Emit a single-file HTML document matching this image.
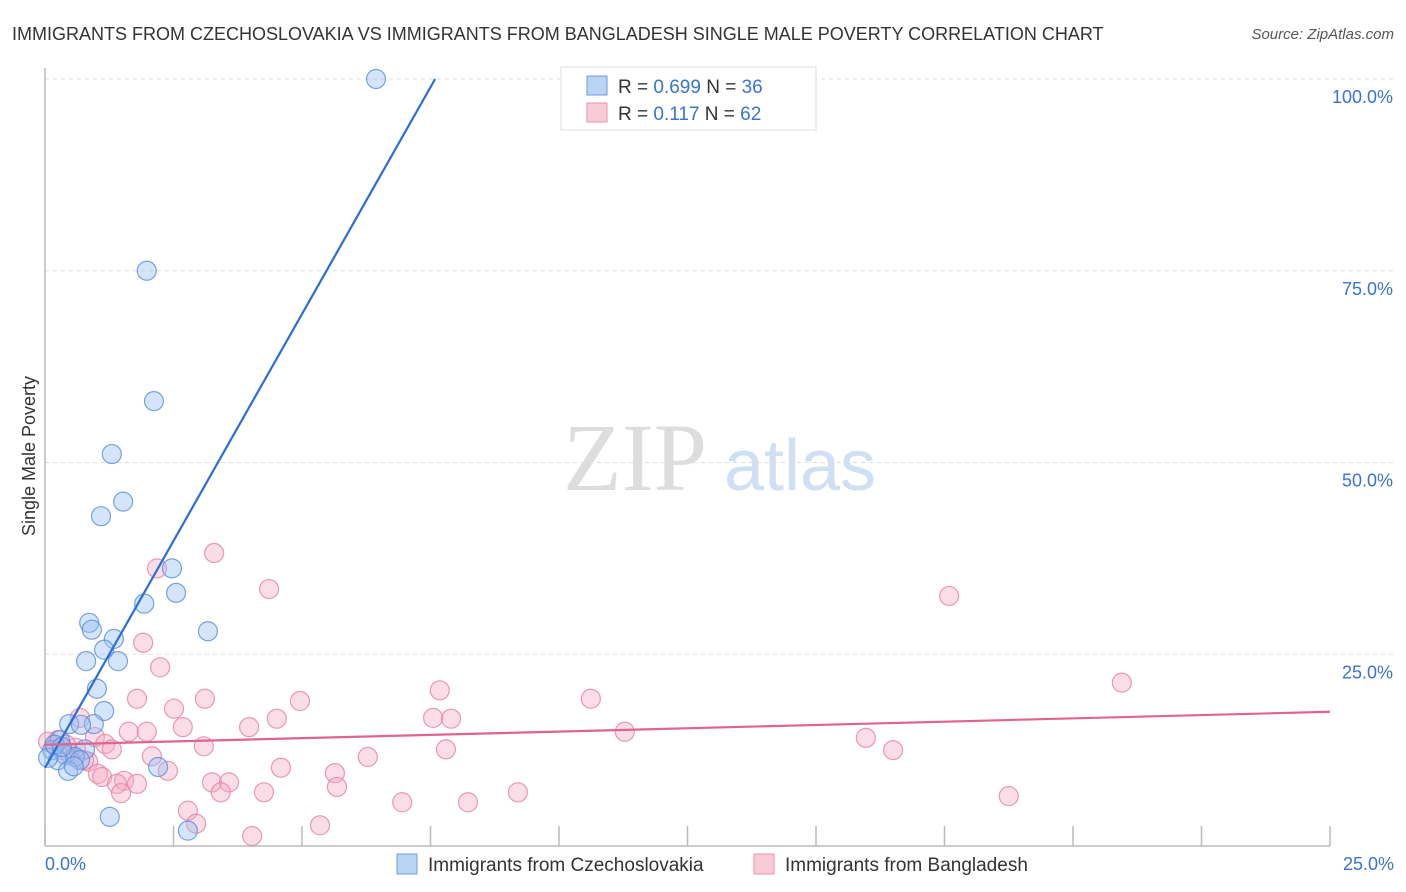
<!DOCTYPE html>
<html><head><meta charset="utf-8"><style>
body{margin:0;background:#fff;font-family:"Liberation Sans",sans-serif}
svg{display:block}
</style></head><body>
<svg id="chart" width="1406" height="892" font-family="Liberation Sans, sans-serif">
<text x="12" y="40" font-size="18" fill="#333">IMMIGRANTS FROM CZECHOSLOVAKIA VS IMMIGRANTS FROM BANGLADESH SINGLE MALE POVERTY CORRELATION CHART</text>
<text x="1394" y="39" font-size="15" fill="#555" font-style="italic" text-anchor="end">Source: ZipAtlas.com</text>
<text x="35" y="456" font-size="18" fill="#333" text-anchor="middle" transform="rotate(-90 35 456)">Single Male Poverty</text>
<g>
<text x="635" y="490" font-size="96" fill="#ddd" font-family="Liberation Serif, serif" text-anchor="middle">ZIP</text>
<text x="800" y="490" font-size="72" fill="#cfe0f5" text-anchor="middle">atlas</text>
</g>
<g id="grid"></g>
<g id="axes"></g>
<g id="points"></g>
<g id="trends"></g>
<g>
<rect x="561" y="67" width="255" height="63" fill="#fff" stroke="#ddd"/>
<rect x="587" y="76" width="20" height="19" fill="#b9d3f5" stroke="#6b9de0"/>
<rect x="587" y="103" width="20" height="19" fill="#f9cad8" stroke="#e990ab"/>
<text x="618" y="93" font-size="19" fill="#333">R = <tspan fill="#3a73d0">0.699</tspan>   N = <tspan fill="#3a73d0">36</tspan></text>
<text x="618" y="120" font-size="19" fill="#333">R =  <tspan fill="#3a73d0"> 0.117</tspan>   N = <tspan fill="#3a73d0">62</tspan></text>
</g>
<g>
<rect x="397" y="854" width="20" height="20" fill="#b9d3f5" stroke="#6b9de0"/>
<text x="428" y="871" font-size="19" fill="#333">Immigrants from Czechoslovakia</text>
<rect x="754" y="854" width="20" height="20" fill="#f9cad8" stroke="#e990ab"/>
<text x="785" y="871" font-size="19" fill="#333">Immigrants from Bangladesh</text>
</g>
</svg>
<script>
const blueX=[6.44,1.98,2.12,1.30,1.52,1.09,2.47,2.55,1.93,3.17,0.86,0.91,1.34,1.15,1.42,0.80,1.01,1.15,0.47,0.95,0.70,0.78,0.29,0.14,0.39,0.58,0.25,0.68,0.45,0.56,2.20,1.26,2.78,0.06,0.19,0.33];
const blueY=[100,75.0,58.0,51.1,44.9,43.0,36.2,33.0,31.6,28.0,29.1,28.2,27.0,25.6,24.1,24.1,20.5,17.6,15.9,15.9,15.8,12.6,13.8,12.5,11.9,11.6,11.2,11.2,9.8,10.4,10.3,3.8,2.0,11.5,13.2,12.9];
const pinkX=[2.18,3.29,4.36,17.59,1.91,2.24,20.95,1.79,3.11,4.96,7.68,10.62,2.51,4.51,7.55,7.90,0.68,2.68,3.97,11.28,1.63,1.98,0.97,1.17,15.97,3.09,1.30,7.80,16.50,2.08,6.28,0.84,4.59,2.39,5.64,1.03,1.11,1.54,3.25,3.58,1.40,1.79,5.68,3.42,4.26,1.48,9.20,18.75,6.95,8.23,2.78,2.94,5.35,4.03,0.18,0.33,0.49,0.25,0.06,0.60,0.41,0.76];
const pinkY=[36.2,38.2,33.5,32.6,26.5,23.3,21.3,19.2,19.2,18.9,20.3,19.2,17.9,16.6,16.7,16.6,16.7,15.5,15.5,14.9,14.9,14.9,14.2,13.3,14.1,13.0,12.6,12.6,12.5,11.7,11.6,11.0,10.2,9.8,9.5,9.4,9.0,8.5,8.3,8.3,8.1,8.1,7.7,7.0,7.0,6.9,7.0,6.5,5.7,5.7,4.6,2.9,2.7,1.3,13.2,12.5,12.0,13.8,13.6,12.8,13.2,11.2];
const blueTrend=[[0,10.2],[7.59,100]];
const pinkTrend=[[0,13.2],[25,17.5]];
const yTicks=[25,50,75,100];
const yTickLabels=["25.0%","50.0%","75.0%","100.0%"];
const xTickLabels=["0.0%","25.0%"];
const NS="http://www.w3.org/2000/svg";
const X0=45,X1=1330,Y0=846,Y100=79;
const sx=v=>X0+v/25*(X1-X0);
const sy=v=>Y0-v/100*(Y0-Y100);
function mk(tag,attrs,parent){const e=document.createElementNS(NS,tag);for(const k in attrs)e.setAttribute(k,attrs[k]);parent.appendChild(e);return e;}
const grid=document.getElementById('grid'),axes=document.getElementById('axes'),pts=document.getElementById('points'),tr=document.getElementById('trends');
yTicks.forEach((t,i)=>{
 const l=mk('line',{x1:X0,x2:1394,y1:sy(t),y2:sy(t),stroke:'#ddd','stroke-dasharray':'4,4'},grid);
 
 
 const tx=mk('text',{x:1393,y:sy(t)+24,'font-size':18,fill:'#3a73d0','text-anchor':'end'},axes);
 tx.textContent=yTickLabels[i];
 
 
});
const ya=mk('line',{x1:X0,x2:X0,y1:68,y2:Y0,stroke:'#bbb','stroke-width':1.5},axes);


const xa=mk('line',{x1:X0,x2:X1,y1:Y0,y2:Y0,stroke:'#bbb','stroke-width':1.5},axes);


for(let i=0;i<=10;i++){
 const v=i*2.5;
 const t=mk('line',{x1:sx(v),x2:sx(v),y1:826,y2:Y0,stroke:'#bbb','stroke-width':1.5},axes);
 
 
}
[[0,'start',45],[25,'end',1394]].forEach((d,i)=>{
 const tx=mk('text',{x:d[2],y:870,'font-size':18,fill:'#3a73d0','text-anchor':d[1]},axes);
 tx.textContent=xTickLabels[i];
 
 
});
pinkX.forEach((x,i)=>{
 const c=mk('circle',{cx:sx(x),cy:sy(pinkY[i]),r:9.5,fill:'rgba(244,170,195,0.4)',stroke:'rgba(228,130,165,0.8)','stroke-width':1.2},pts);
 
 
});
blueX.forEach((x,i)=>{
 const c=mk('circle',{cx:sx(x),cy:sy(blueY[i]),r:9.5,fill:'rgba(150,190,240,0.4)',stroke:'rgba(90,140,220,0.8)','stroke-width':1.2},pts);
 
 
});
const bl=mk('line',{x1:sx(blueTrend[0][0]),y1:sy(blueTrend[0][1]),x2:sx(blueTrend[1][0]),y2:sy(blueTrend[1][1]),stroke:'#2a6fd6','stroke-width':2.2},tr);


const pl=mk('line',{x1:sx(pinkTrend[0][0]),y1:sy(pinkTrend[0][1]),x2:sx(pinkTrend[1][0]),y2:sy(pinkTrend[1][1]),stroke:'#e3638f','stroke-width':2.2},tr);


</script>
</body></html>
